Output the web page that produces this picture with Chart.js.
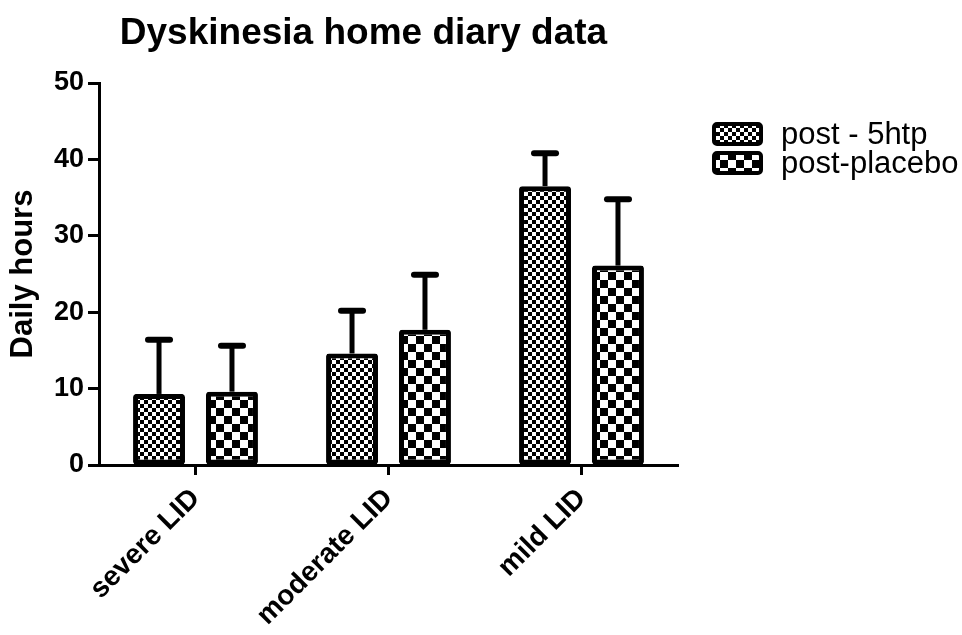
<!DOCTYPE html>
<html>
<head>
<meta charset="utf-8">
<script src="https://cdn.jsdelivr.net/npm/chart.js@4.4.0/dist/chart.umd.min.js"></script>
<style>
  html, body { margin: 0; padding: 0; background: #fff; }
  #wrap { width: 962px; height: 635px; }
</style>
</head>
<body>
<div id="wrap"><canvas id="myChart"></canvas></div>
<script>
let categories = ["severe LID", "moderate LID", "mild LID"];
let seriesNames = ["post - 5htp", "post-placebo"];
let post5htp = [9.3, 14.6, 36.5];
let post5htpErr = [7.1, 5.6, 4.3];
let postPlacebo = [9.6, 17.7, 26.1];
let postPlaceboErr = [6.0, 7.2, 8.7];
let yTicks = [0, 10, 20, 30, 40, 50];
let chartTitle = "Dyskinesia home diary data";
let yTitle = "Daily hours";

const FONT = "'Liberation Sans', Arial, sans-serif";

// checkerboard fill like the prism patterns
function checker(cell) {
  let c = document.createElement("canvas");
  c.width = cell * 2;
  c.height = cell * 2;
  let g = c.getContext("2d");
  g.fillStyle = "#fff";
  g.fillRect(0, 0, cell * 2, cell * 2);
  g.fillStyle = "#000";
  g.fillRect(0, 0, cell, cell);
  g.fillRect(cell, cell, cell, cell);
  return g.createPattern(c, "repeat");
}

let fineCheck = checker(4);
let coarseCheck = checker(8);

// upward error bars only
const errorBars = {
  id: "errorBars",
  afterDatasetsDraw(chart) {
    let ctx = chart.ctx;
    let yScale = chart.scales.y;
    chart.data.datasets.forEach((ds, i) => {
      let meta = chart.getDatasetMeta(i);
      meta.data.forEach((bar, j) => {
        let topY = yScale.getPixelForValue(ds.data[j] + ds.errors[j]);
        ctx.save();
        ctx.strokeStyle = "#000";
        ctx.lineWidth = 5;
        ctx.beginPath();
        ctx.moveTo(bar.x, bar.y);
        ctx.lineTo(bar.x, topY);
        ctx.stroke();
        ctx.lineWidth = 6;
        ctx.lineCap = "round";
        ctx.beginPath();
        ctx.moveTo(bar.x - 11, topY);
        ctx.lineTo(bar.x + 11, topY);
        ctx.stroke();
        ctx.restore();
      });
    });
  }
};

// title and legend drawn by hand so they sit where the original has them
const titleLegend = {
  id: "titleLegend",
  afterDraw(chart) {
    let ctx = chart.ctx;
    let area = chart.chartArea;
    ctx.save();
    ctx.fillStyle = "#000";
    ctx.font = "bold 37px " + FONT;
    ctx.textAlign = "center";
    ctx.textBaseline = "alphabetic";
    ctx.fillText(chartTitle, (area.left + area.right) / 2 - 25, 44);

    ctx.font = "31px " + FONT;
    ctx.textAlign = "left";
    ctx.textBaseline = "middle";
    chart.data.datasets.forEach((ds, i) => {
      let cy = 134 + i * 29;
      ctx.beginPath();
      ctx.roundRect(714, cy - 10, 47, 20, 3);
      ctx.fillStyle = ds.backgroundColor;
      ctx.fill();
      ctx.lineWidth = 4;
      ctx.strokeStyle = "#000";
      ctx.stroke();
      ctx.fillStyle = "#000";
      ctx.fillText(ds.label, 781, cy + 1);
    });
    ctx.restore();
  }
};

const ctx = document.getElementById("myChart");
new Chart(ctx, {
  type: "bar",
  data: {
    labels: categories,
    datasets: [
      {
        label: seriesNames[0],
        data: post5htp,
        errors: post5htpErr,
        backgroundColor: fineCheck,
        borderColor: "#000",
        borderWidth: 5,
        borderRadius: 3,
        borderSkipped: false,
        categoryPercentage: 0.756,
        barPercentage: 0.712
      },
      {
        label: seriesNames[1],
        data: postPlacebo,
        errors: postPlaceboErr,
        backgroundColor: coarseCheck,
        borderColor: "#000",
        borderWidth: 5,
        borderRadius: 3,
        borderSkipped: false,
        categoryPercentage: 0.756,
        barPercentage: 0.712
      }
    ]
  },
  options: {
    responsive: true,
    maintainAspectRatio: false,
    animation: false,
    layout: { padding: { left: 5, right: 284, top: 83, bottom: 0 } },
    plugins: {
      legend: { display: false },
      title: { display: false },
      tooltip: { enabled: false }
    },
    scales: {
      x: {
        grid: {
          display: true,
          drawOnChartArea: false,
          drawTicks: true,
          tickLength: 10,
          tickWidth: 3,
          tickColor: "#000",
          offset: false
        },
        border: { display: true, color: "#000", width: 3 },
        ticks: {
          color: "#000",
          font: { family: FONT, size: 28, weight: "bold" },
          minRotation: 45,
          maxRotation: 45,
          padding: 7
        },
        afterFit(scale) { scale.height = 170; }
      },
      y: {
        min: yTicks[0],
        max: yTicks[yTicks.length - 1],
        afterBuildTicks(scale) { scale.ticks = yTicks.map(v => ({ value: v })); },
        grid: {
          display: true,
          drawOnChartArea: false,
          drawTicks: true,
          tickLength: 11,
          tickWidth: 3,
          tickColor: "#000"
        },
        border: { display: true, color: "#000", width: 3 },
        ticks: {
          color: "#000",
          font: { family: FONT, size: 27, weight: "bold" },
          padding: 4
        },
        title: {
          display: true,
          text: yTitle,
          color: "#000",
          font: { family: FONT, size: 31, weight: "bold" },
          padding: { top: 0, bottom: 0 }
        },
        afterFit(scale) { scale.width = 94; }
      }
    }
  },
  plugins: [errorBars, titleLegend]
});
</script>
</body>
</html>
